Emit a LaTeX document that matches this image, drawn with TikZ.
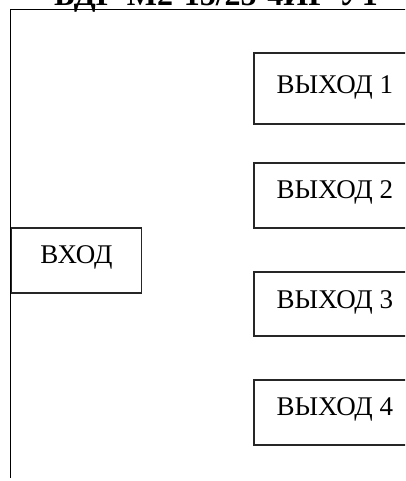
\documentclass[tikz,border=0pt]{standalone}
\usepackage{fontspec}
\setmainfont{Liberation Serif}
\begin{document}
\begin{tikzpicture}[x=1pt,y=-1pt,
  frame/.style={line width=1.8pt, black},
  boxst/.style={draw=black!85, line width=1.8pt, rectangle, inner xsep=0pt, inner ysep=0pt,
    font=\fontsize{27}{31}\selectfont, align=center},
  titlest/.style={font=\fontsize{32}{36}\selectfont\bfseries, inner sep=0pt, anchor=base}]
\useasboundingbox (0,0) rectangle (405,481);
\clip (0,0) rectangle (405,481);
\node[titlest] (title) at (216,6) {БДГ-М2-15/25-4ИР-У1};
\coordinate (tl) at (10.5,9.5);
\coordinate (tr) at (410,9.5);
\coordinate (bl) at (10.5,478);
\draw[frame] (tr) -- (tl) -- (bl);
\node[boxst, anchor=north west, minimum width=130pt, text height=36pt, text depth=29pt] (in) at (10.5,227) {ВХОД};
\node[boxst, anchor=north west, minimum width=162pt, text height=41pt, text depth=30pt] (o1) at (253,52) {ВЫХОД 1};
\node[boxst, anchor=north west, minimum width=162pt, text height=36pt, text depth=29pt] (o2) at (253,162) {ВЫХОД 2};
\node[boxst, anchor=north west, minimum width=162pt, text height=37pt, text depth=27pt] (o3) at (253,271) {ВЫХОД 3};
\node[boxst, anchor=north west, minimum width=162pt, text height=36pt, text depth=29pt] (o4) at (253,379) {ВЫХОД 4};
\end{tikzpicture}
\end{document}
